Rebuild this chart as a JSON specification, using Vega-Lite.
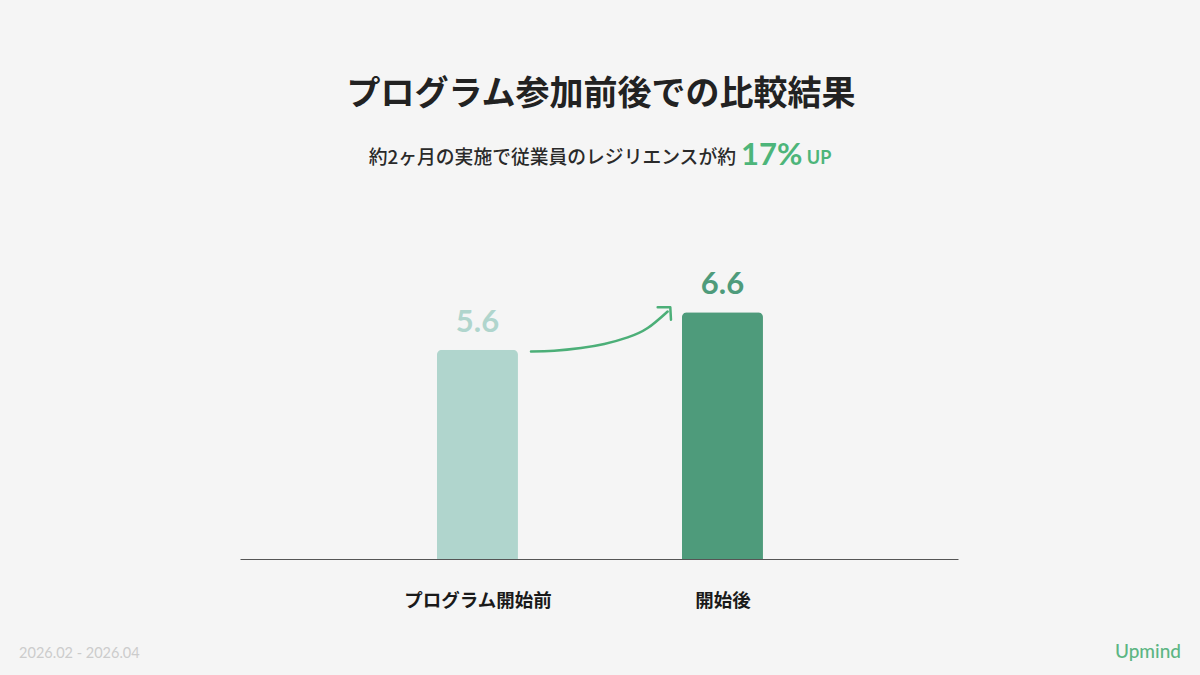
{
  "$schema": "https://vega.github.io/schema/vega-lite/v6.json",
  "autosize": {"type": "none"},
  "width": 718,
  "height": 299,
  "padding": {"left": 240, "top": 260, "right": 242, "bottom": 116},
  "background": "#f5f5f5",
  "config": {"view": {"stroke": null}, "font": "Noto Sans CJK JP"},
  "datasets": {
    "bars": [
      {"pos": 1, "group": "プログラム開始前", "value": 5.6},
      {"pos": 2, "group": "開始後", "value": 6.6}
    ],
    "curve": [
      {"px": 1.2184, "py": 5.553},
      {"px": 1.3135, "py": 5.572},
      {"px": 1.4225, "py": 5.644},
      {"px": 1.5176, "py": 5.751},
      {"px": 1.6131, "py": 5.928},
      {"px": 1.6947, "py": 6.179},
      {"px": 1.7763, "py": 6.623}
    ],
    "head": [
      {"px": 1.7355, "py": 6.736, "k": 0},
      {"px": 1.787, "py": 6.736, "k": 1},
      {"px": 1.7898, "py": 6.403, "k": 2}
    ]
  },
  "layer": [
    {
      "data": {"name": "bars"},
      "mark": {"type": "bar", "size": 81, "cornerRadiusTopLeft": 5, "cornerRadiusTopRight": 5},
      "encoding": {
        "x": {
          "field": "pos", "type": "quantitative",
          "scale": {"domain": [0.0307, 2.9613], "nice": false, "zero": false, "padding": 0},
          "axis": {
            "title": null, "values": [1, 2], "grid": false, "ticks": false,
            "labelExpr": "datum.value == 1 ? 'プログラム開始前' : '開始後'",
            "labelFont": "Noto Sans CJK JP", "labelFontSize": 18.5, "labelFontWeight": "bold",
            "labelColor": "#1a1a1a", "labelBaseline": "middle", "labelPadding": 41,
            "domainColor": "#555555", "domainWidth": 1
          }
        },
        "y": {
          "field": "value", "type": "quantitative",
          "scale": {"domain": [0, 8], "nice": false},
          "axis": null
        },
        "color": {
          "field": "group", "type": "nominal",
          "scale": {"domain": ["プログラム開始前", "開始後"], "range": ["#b0d5cd", "#4e9b7b"]},
          "legend": null
        }
      }
    },
    {
      "data": {"name": "bars"},
      "mark": {"type": "text", "font": "Lato", "fontSize": 31, "fontWeight": "bold", "baseline": "alphabetic", "dy": -18},
      "encoding": {
        "x": {"field": "pos", "type": "quantitative"},
        "y": {"field": "value", "type": "quantitative"},
        "text": {"field": "value", "type": "quantitative", "format": ".1f"},
        "color": {"field": "group", "type": "nominal", "legend": null}
      }
    },
    {
      "data": {"name": "curve"},
      "mark": {"type": "line", "interpolate": "natural", "color": "#4caf78", "strokeWidth": 2.5, "strokeCap": "round", "clip": false},
      "encoding": {
        "x": {"field": "px", "type": "quantitative"},
        "y": {"field": "py", "type": "quantitative"}
      }
    },
    {
      "data": {"name": "head"},
      "mark": {"type": "line", "color": "#4caf78", "strokeWidth": 2.5, "strokeCap": "round", "strokeJoin": "round", "clip": false},
      "encoding": {
        "x": {"field": "px", "type": "quantitative"},
        "y": {"field": "py", "type": "quantitative"},
        "order": {"field": "k", "type": "quantitative"}
      }
    },
    {
      "data": {"values": [{"t": "プログラム参加前後での比較結果"}]},
      "mark": {"type": "text", "fontSize": 34, "fontWeight": "bold", "color": "#222222", "align": "center", "baseline": "middle", "clip": false},
      "encoding": {
        "x": {"datum": 1.504, "type": "quantitative"},
        "y": {"datum": 12.415, "type": "quantitative"},
        "text": {"field": "t"}
      }
    },
    {
      "data": {"values": [{"t": "約2ヶ月の実施で従業員のレジリエンスが約"}]},
      "mark": {"type": "text", "fontSize": 18.8, "fontWeight": 500, "color": "#2a2a2a", "align": "right", "baseline": "middle", "clip": false},
      "encoding": {
        "x": {"datum": 2.055, "type": "quantitative"},
        "y": {"datum": 10.73, "type": "quantitative"},
        "text": {"field": "t"}
      }
    },
    {
      "data": {"values": [{"t": "17%"}]},
      "mark": {"type": "text", "font": "Lato", "fontSize": 31, "fontWeight": "bold", "color": "#4db57a", "align": "left", "baseline": "middle", "clip": false},
      "encoding": {
        "x": {"datum": 2.0756, "type": "quantitative"},
        "y": {"datum": 10.78, "type": "quantitative"},
        "text": {"field": "t"}
      }
    },
    {
      "data": {"values": [{"t": "UP"}]},
      "mark": {"type": "text", "font": "Lato", "fontSize": 18, "fontWeight": "bold", "color": "#4db57a", "align": "left", "baseline": "middle", "clip": false},
      "encoding": {
        "x": {"datum": 2.344, "type": "quantitative"},
        "y": {"datum": 10.7, "type": "quantitative"},
        "text": {"field": "t"}
      }
    },
    {
      "data": {"values": [{"t": "2026.02 - 2026.04"}]},
      "mark": {"type": "text", "font": "Lato", "fontSize": 14.5, "color": "#cccccc", "align": "left", "baseline": "middle", "clip": false},
      "encoding": {
        "x": {"datum": -0.871, "type": "quantitative"},
        "y": {"datum": -2.54, "type": "quantitative"},
        "text": {"field": "t"}
      }
    },
    {
      "data": {"values": [{"t": "Upmind"}]},
      "mark": {"type": "text", "font": "Lato", "fontSize": 19, "fontWeight": 500, "color": "#5cb583", "align": "right", "baseline": "middle", "clip": false},
      "encoding": {
        "x": {"datum": 3.8715, "type": "quantitative"},
        "y": {"datum": -2.49, "type": "quantitative"},
        "text": {"field": "t"}
      }
    }
  ]
}
